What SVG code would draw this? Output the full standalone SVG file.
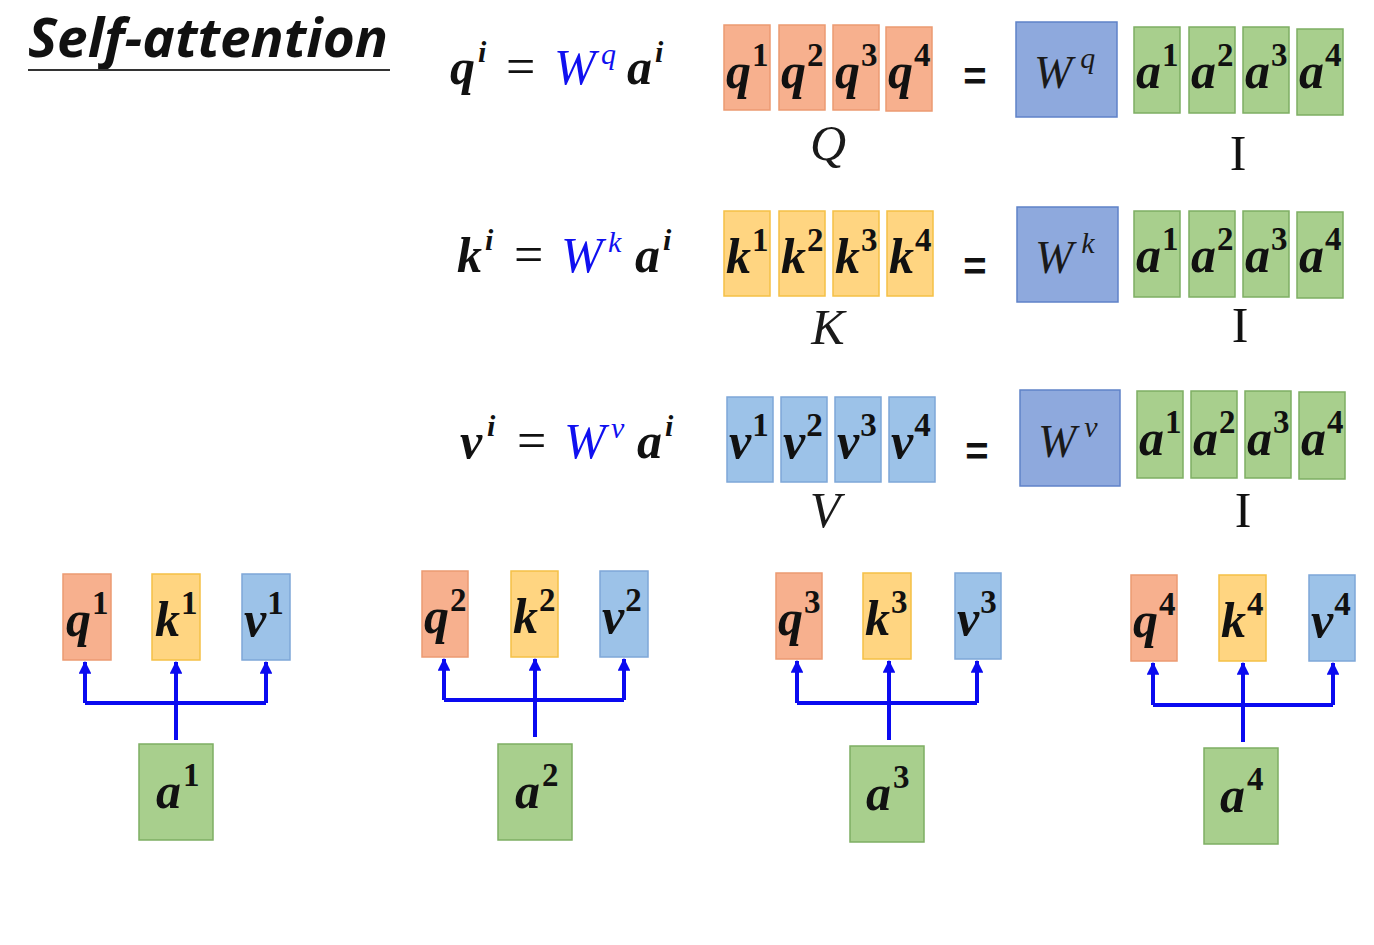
<svg xmlns="http://www.w3.org/2000/svg" width="1374" height="945" viewBox="0 0 1374 945">
<defs>
<style>
.qb{fill:#F7B08E;stroke:#EC9A72;stroke-width:1.5}
.kb{fill:#FFD581;stroke:#F5C046;stroke-width:1.5}
.vb{fill:#9CC2E8;stroke:#7EA7D8;stroke-width:1.5}
.wb{fill:#8EA9DD;stroke:#5F82C8;stroke-width:1.5}
.ab{fill:#A8CF8D;stroke:#7EAE63;stroke-width:1.5}
.m{font-family:"Liberation Serif","DejaVu Serif",serif;font-style:italic;font-weight:bold;fill:#111;font-size:50px}
.s{font-style:normal;font-size:33px}
.mw{font-family:"Liberation Serif","DejaVu Serif",serif;font-style:italic;fill:#1A1A1A}
.bl{font-family:"Liberation Serif","DejaVu Serif",serif;font-style:italic;fill:#1010F0}
.eq{font-family:"Liberation Serif","DejaVu Serif",serif;fill:#111}
.eqs{font-family:"Liberation Sans",Arial,sans-serif;font-weight:bold;fill:#111}
.rm{font-family:"Liberation Serif","DejaVu Serif",serif;fill:#111}
.c{fill:none;stroke:#0A0AF0;stroke-width:4}
</style>
<marker id="arr" viewBox="0 0 12 12" refX="11" refY="6" markerWidth="3.2" markerHeight="3.2" orient="auto" markerUnits="strokeWidth">
<path d="M0,0 L12,6 L0,12 Z" fill="#0A0AF0"/>
</marker>
</defs>

<g id="title">
<text x="28" y="57" font-family="'Open Sans','Liberation Sans',sans-serif" font-weight="bold" font-style="italic" font-size="54" fill="#111" textLength="360" lengthAdjust="spacingAndGlyphs">Self-attention</text>
<line x1="28" y1="70" x2="390" y2="70" stroke="#333" stroke-width="2"/>
</g>

<!-- Row 1: Q -->
<g id="eq-q">
<text class="m" x="450" y="84">q</text>
<text class="m" x="478" y="62" style="font-size:30px">i</text>
<text class="eq" x="506" y="84" font-size="52">=</text>
<text class="bl" x="554" y="84" font-size="50">W</text>
<text class="bl" x="601" y="64" font-size="30">q</text>
<text class="m" x="627" y="84">a</text>
<text class="m" x="655" y="62" style="font-size:30px">i</text>
</g>
<g id="Q">
<rect class="qb" x="724" y="25" width="46" height="85"/>
<rect class="qb" x="779" y="25" width="46" height="85"/>
<rect class="qb" x="833" y="25" width="46" height="85"/>
<rect class="qb" x="886" y="27" width="46" height="84"/>
<text class="m" x="726" y="88">q<tspan class="s" dx="1" dy="-22">1</tspan></text>
<text class="m" x="781" y="88">q<tspan class="s" dx="1" dy="-22">2</tspan></text>
<text class="m" x="835" y="88">q<tspan class="s" dx="1" dy="-22">3</tspan></text>
<text class="m" x="888" y="88">q<tspan class="s" dx="1" dy="-22">4</tspan></text>
<text class="mw" x="828" y="160" font-size="50" text-anchor="middle">Q</text>
</g>
<g id="eqsign-q"><text class="eqs" x="975" y="90" font-size="40" text-anchor="middle">=</text></g>
<g id="Wq">
<rect class="wb" x="1016" y="22" width="101" height="95"/>
<text class="mw" x="1034" y="88" font-size="46">W<tspan font-size="30" dx="8" dy="-20">q</tspan></text>
</g>
<g id="I-q">
<rect class="ab" x="1134" y="27" width="46" height="86"/>
<rect class="ab" x="1189" y="27" width="46" height="86"/>
<rect class="ab" x="1243" y="27" width="46" height="86"/>
<rect class="ab" x="1297" y="29" width="46" height="86"/>
<text class="m" x="1136" y="88">a<tspan class="s" dx="1" dy="-22">1</tspan></text>
<text class="m" x="1191" y="88">a<tspan class="s" dx="1" dy="-22">2</tspan></text>
<text class="m" x="1245" y="88">a<tspan class="s" dx="1" dy="-22">3</tspan></text>
<text class="m" x="1299" y="88">a<tspan class="s" dx="1" dy="-22">4</tspan></text>
<text class="rm" x="1238" y="170" font-size="50" text-anchor="middle">I</text>
</g>

<!-- Row 2: K -->
<g id="eq-k">
<text class="m" x="457" y="272">k</text>
<text class="m" x="485" y="250" style="font-size:30px">i</text>
<text class="eq" x="514" y="272" font-size="52">=</text>
<text class="bl" x="561" y="272" font-size="50">W</text>
<text class="bl" x="608" y="252" font-size="30">k</text>
<text class="m" x="635" y="272">a</text>
<text class="m" x="663" y="250" style="font-size:30px">i</text>
</g>
<g id="K">
<rect class="kb" x="724" y="211" width="46" height="85"/>
<rect class="kb" x="779" y="211" width="46" height="85"/>
<rect class="kb" x="833" y="211" width="46" height="85"/>
<rect class="kb" x="887" y="211" width="46" height="85"/>
<text class="m" x="726" y="273">k<tspan class="s" dx="1" dy="-22">1</tspan></text>
<text class="m" x="781" y="273">k<tspan class="s" dx="1" dy="-22">2</tspan></text>
<text class="m" x="835" y="273">k<tspan class="s" dx="1" dy="-22">3</tspan></text>
<text class="m" x="889" y="273">k<tspan class="s" dx="1" dy="-22">4</tspan></text>
<text class="mw" x="828" y="344" font-size="50" text-anchor="middle">K</text>
</g>
<g id="eqsign-k"><text class="eqs" x="975" y="280" font-size="40" text-anchor="middle">=</text></g>
<g id="Wk">
<rect class="wb" x="1017" y="207" width="101" height="95"/>
<text class="mw" x="1035" y="273" font-size="46">W<tspan font-size="30" dx="8" dy="-20">k</tspan></text>
</g>
<g id="I-k">
<rect class="ab" x="1134" y="211" width="46" height="86"/>
<rect class="ab" x="1189" y="211" width="46" height="86"/>
<rect class="ab" x="1243" y="211" width="46" height="86"/>
<rect class="ab" x="1297" y="212" width="46" height="86"/>
<text class="m" x="1136" y="272">a<tspan class="s" dx="1" dy="-22">1</tspan></text>
<text class="m" x="1191" y="272">a<tspan class="s" dx="1" dy="-22">2</tspan></text>
<text class="m" x="1245" y="272">a<tspan class="s" dx="1" dy="-22">3</tspan></text>
<text class="m" x="1299" y="272">a<tspan class="s" dx="1" dy="-22">4</tspan></text>
<text class="rm" x="1240" y="342" font-size="50" text-anchor="middle">I</text>
</g>

<!-- Row 3: V -->
<g id="eq-v">
<text class="m" x="460" y="458">v</text>
<text class="m" x="487" y="436" style="font-size:30px">i</text>
<text class="eq" x="517" y="458" font-size="52">=</text>
<text class="bl" x="564" y="458" font-size="50">W</text>
<text class="bl" x="611" y="438" font-size="30">v</text>
<text class="m" x="637" y="458">a</text>
<text class="m" x="665" y="436" style="font-size:30px">i</text>
</g>
<g id="V">
<rect class="vb" x="727" y="397" width="46" height="85"/>
<rect class="vb" x="781" y="397" width="46" height="85"/>
<rect class="vb" x="835" y="397" width="46" height="85"/>
<rect class="vb" x="889" y="397" width="46" height="85"/>
<text class="m" x="729" y="458">v<tspan class="s" dx="1" dy="-22">1</tspan></text>
<text class="m" x="783" y="458">v<tspan class="s" dx="1" dy="-22">2</tspan></text>
<text class="m" x="837" y="458">v<tspan class="s" dx="1" dy="-22">3</tspan></text>
<text class="m" x="891" y="458">v<tspan class="s" dx="1" dy="-22">4</tspan></text>
<text class="mw" x="825" y="527" font-size="50" text-anchor="middle">V</text>
</g>
<g id="eqsign-v"><text class="eqs" x="977" y="465" font-size="40" text-anchor="middle">=</text></g>
<g id="Wv">
<rect class="wb" x="1020" y="390" width="100" height="96"/>
<text class="mw" x="1038" y="457" font-size="46">W<tspan font-size="30" dx="8" dy="-20">v</tspan></text>
</g>
<g id="I-v">
<rect class="ab" x="1137" y="391" width="46" height="87"/>
<rect class="ab" x="1191" y="391" width="46" height="87"/>
<rect class="ab" x="1245" y="391" width="46" height="87"/>
<rect class="ab" x="1299" y="392" width="46" height="87"/>
<text class="m" x="1139" y="455">a<tspan class="s" dx="1" dy="-22">1</tspan></text>
<text class="m" x="1193" y="455">a<tspan class="s" dx="1" dy="-22">2</tspan></text>
<text class="m" x="1247" y="455">a<tspan class="s" dx="1" dy="-22">3</tspan></text>
<text class="m" x="1301" y="455">a<tspan class="s" dx="1" dy="-22">4</tspan></text>
<text class="rm" x="1243" y="527" font-size="50" text-anchor="middle">I</text>
</g>

<!-- Bottom groups -->
<g id="g1">
<rect class="qb" x="63" y="574" width="48" height="86"/>
<rect class="kb" x="152" y="574" width="48" height="86"/>
<rect class="vb" x="242" y="574" width="48" height="86"/>
<rect class="ab" x="139" y="744" width="74" height="96"/>
<text class="m" x="66" y="636">q<tspan class="s" dx="1" dy="-22">1</tspan></text>
<text class="m" x="155" y="636">k<tspan class="s" dx="1" dy="-22">1</tspan></text>
<text class="m" x="244" y="636">v<tspan class="s" dx="1" dy="-22">1</tspan></text>
<text class="m" x="156" y="808">a<tspan class="s" dx="2" dy="-22">1</tspan></text>
</g>
<g id="g2">
<rect class="qb" x="422" y="571" width="46" height="86"/>
<rect class="kb" x="511" y="571" width="47" height="86"/>
<rect class="vb" x="600" y="571" width="48" height="86"/>
<rect class="ab" x="498" y="744" width="74" height="96"/>
<text class="m" x="424" y="633">q<tspan class="s" dx="1" dy="-22">2</tspan></text>
<text class="m" x="513" y="633">k<tspan class="s" dx="1" dy="-22">2</tspan></text>
<text class="m" x="602" y="633">v<tspan class="s" dx="1" dy="-22">2</tspan></text>
<text class="m" x="515" y="808">a<tspan class="s" dx="2" dy="-22">2</tspan></text>
</g>
<g id="g3">
<rect class="qb" x="776" y="573" width="46" height="86"/>
<rect class="kb" x="863" y="573" width="48" height="86"/>
<rect class="vb" x="955" y="573" width="46" height="86"/>
<rect class="ab" x="850" y="746" width="74" height="96"/>
<text class="m" x="778" y="635">q<tspan class="s" dx="1" dy="-22">3</tspan></text>
<text class="m" x="865" y="635">k<tspan class="s" dx="1" dy="-22">3</tspan></text>
<text class="m" x="957" y="635">v<tspan class="s" dx="1" dy="-22">3</tspan></text>
<text class="m" x="866" y="810">a<tspan class="s" dx="2" dy="-22">3</tspan></text>
</g>
<g id="g4">
<rect class="qb" x="1131" y="575" width="46" height="86"/>
<rect class="kb" x="1219" y="575" width="47" height="86"/>
<rect class="vb" x="1309" y="575" width="46" height="86"/>
<rect class="ab" x="1204" y="748" width="74" height="96"/>
<text class="m" x="1133" y="637">q<tspan class="s" dx="1" dy="-22">4</tspan></text>
<text class="m" x="1221" y="637">k<tspan class="s" dx="1" dy="-22">4</tspan></text>
<text class="m" x="1311" y="637">v<tspan class="s" dx="1" dy="-22">4</tspan></text>
<text class="m" x="1220" y="812">a<tspan class="s" dx="2" dy="-22">4</tspan></text>
</g>

<g id="connectors">
<path class="c" d="M176,740 V703"/>
<path class="c" d="M85,703 H266"/>
<path class="c" d="M85,703 V662" marker-end="url(#arr)"/>
<path class="c" d="M176,703 V662" marker-end="url(#arr)"/>
<path class="c" d="M266,703 V662" marker-end="url(#arr)"/>

<path class="c" d="M535,737 V700"/>
<path class="c" d="M444,700 H624"/>
<path class="c" d="M444,700 V659" marker-end="url(#arr)"/>
<path class="c" d="M535,700 V659" marker-end="url(#arr)"/>
<path class="c" d="M624,700 V659" marker-end="url(#arr)"/>

<path class="c" d="M889,740 V703"/>
<path class="c" d="M797,703 H977"/>
<path class="c" d="M797,703 V661" marker-end="url(#arr)"/>
<path class="c" d="M889,703 V661" marker-end="url(#arr)"/>
<path class="c" d="M977,703 V661" marker-end="url(#arr)"/>

<path class="c" d="M1243,742 V705"/>
<path class="c" d="M1153,705 H1333"/>
<path class="c" d="M1153,705 V663" marker-end="url(#arr)"/>
<path class="c" d="M1243,705 V663" marker-end="url(#arr)"/>
<path class="c" d="M1333,705 V663" marker-end="url(#arr)"/>
</g>
</svg>
